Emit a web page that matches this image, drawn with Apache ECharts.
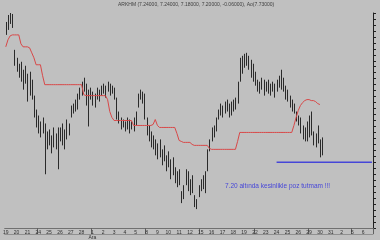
<!DOCTYPE html>
<html>
<head>
<meta charset="utf-8">
<script src="https://cdn.jsdelivr.net/npm/echarts@6/dist/echarts.min.js"></script>
<style>
html,body{margin:0;padding:0;background:#c0c0c0;}
#c{width:380px;height:240px;}
</style>
</head>
<body>
<div id="c"></div>
<script>
// ---- data ----
const DAYS = ['19','20','21','24','25','26','27','28','1','2','3','4','5','8','9','10','11','12','15','16','17','18','19','22','23','24','25','26','29','30','31','2','5','6'];
const WEEK_STARTS = [3,8,13,18,23,28,32];
const MONTH_LABELS = {8:'Ara'};
const SLOTS_PER_DAY = 5;

const HIGHS = [8.61,8.68,8.70,8.69,8.33,8.25,8.19,8.21,8.13,8.17,8.09,8.11,8.03,7.87,7.73,7.67,7.61,7.65,7.59,7.51,
7.53,7.47,7.55,7.49,7.55,7.55,7.59,7.53,7.63,7.59,7.77,7.79,7.83,7.89,7.95,8.01,8.05,7.99,7.93,7.95,
7.91,7.89,7.95,7.93,7.97,7.99,7.97,8.01,7.99,7.97,7.95,7.85,7.71,7.65,7.63,7.61,7.65,7.63,7.61,7.65,
7.71,7.89,7.93,7.91,7.89,7.65,7.57,7.51,7.47,7.43,7.39,7.43,7.33,7.37,7.27,7.31,7.23,7.25,7.15,7.11,
7.13,6.91,6.97,7.13,7.11,7.03,7.07,6.87,6.83,6.97,7.03,7.07,7.11,7.33,7.43,7.55,7.57,7.65,7.73,7.79,
7.77,7.81,7.83,7.79,7.81,7.83,7.85,8.01,8.25,8.27,8.29,8.30,8.27,8.23,8.19,8.11,8.03,8.01,8.05,8.03,
8.01,8.03,7.99,8.01,7.99,8.03,8.07,8.13,8.05,7.97,7.93,7.87,7.83,7.79,7.71,7.67,7.65,7.57,7.55,7.61,
7.67,7.71,7.51,7.49,7.57,7.43,7.45];
const LOWS = [8.48,8.53,8.59,8.55,8.17,8.11,8.05,8.01,7.93,7.99,7.81,7.87,7.83,7.65,7.55,7.49,7.45,7.49,7.08,7.33,
7.37,7.29,7.35,7.33,7.13,7.41,7.37,7.33,7.43,7.47,7.65,7.69,7.71,7.73,7.83,7.87,7.91,7.77,7.56,7.83,
7.77,7.75,7.83,7.81,7.87,7.89,7.85,7.91,7.87,7.89,7.83,7.63,7.59,7.53,7.55,7.51,7.53,7.49,7.53,7.51,
7.57,7.75,7.83,7.79,7.63,7.47,7.41,7.35,7.33,7.27,7.23,7.25,7.17,7.21,7.11,7.15,7.03,7.07,6.99,6.95,
6.97,6.79,6.83,6.97,6.91,6.87,6.89,6.75,6.73,6.85,6.91,6.93,6.89,7.11,7.31,7.41,7.45,7.51,7.63,7.67,
7.65,7.69,7.71,7.65,7.67,7.71,7.73,7.79,8.01,8.09,8.15,8.17,8.13,8.05,8.01,7.97,7.91,7.89,7.93,7.87,
7.91,7.89,7.87,7.91,7.85,7.91,7.95,7.93,7.91,7.83,7.81,7.75,7.71,7.69,7.61,7.57,7.49,7.43,7.41,7.41,
7.45,7.47,7.37,7.35,7.39,7.25,7.27];
const STOP_LINE = [8.36,8.43,8.47,8.48,8.48,8.48,8.48,8.39,8.36,8.36,8.36,8.35,8.30,8.25,8.18,8.18,8.18,8.07,7.98,7.98,
7.98,7.98,7.98,7.98,7.98,7.98,7.98,7.98,7.98,7.98,7.98,7.98,7.98,7.98,7.98,7.98,7.88,7.87,7.87,7.87,
7.87,7.87,7.87,7.87,7.87,7.87,7.87,7.83,7.71,7.65,7.62,7.62,7.62,7.62,7.62,7.62,7.62,7.62,7.62,7.57,
7.57,7.57,7.57,7.57,7.57,7.57,7.57,7.57,7.58,7.63,7.57,7.55,7.55,7.55,7.55,7.55,7.55,7.55,7.55,7.49,
7.42,7.41,7.40,7.40,7.40,7.40,7.38,7.37,7.37,7.37,7.37,7.37,7.37,7.37,7.34,7.33,7.33,7.33,7.33,7.33,
7.33,7.33,7.33,7.33,7.33,7.33,7.33,7.41,7.50,7.50,7.50,7.50,7.50,7.50,7.50,7.50,7.50,7.50,7.50,7.50,
7.50,7.50,7.50,7.50,7.50,7.50,7.50,7.50,7.50,7.50,7.50,7.50,7.50,7.57,7.65,7.72,7.77,7.80,7.82,7.83,
7.83,7.82,7.82,7.81,7.79,7.78];
const SUPPORT_LEVEL = 7.20;
const SUPPORT_START = 125;
const TITLE_TEXT = 'ARKHM (7.24000, 7.24000, 7.18000, 7.20000, -0.06000), Ao(7.73000)';
const NOTE_TEXT = '7.20 altında kesinlikle poz tutmam !!!';

// ---- build ----
const categories = [];
DAYS.forEach((d, k) => { for (let s = 0; s < SLOTS_PER_DAY; s++) categories.push(d + '_' + k + '_' + s); });
const barData = HIGHS.map((h, i) => [i, h, LOWS[i]]);
const supportData = categories.map((c, i) => i >= SUPPORT_START ? SUPPORT_LEVEL : null);
const weekTickIdx = new Set(WEEK_STARTS.map(k => k * SLOTS_PER_DAY));

const chart = echarts.init(document.getElementById('c'), null, {renderer: 'canvas'});
chart.setOption({
  backgroundColor: '#c0c0c0',
  animation: false,
  textStyle: {fontFamily: 'Liberation Sans, Arial, sans-serif'},
  grid: {left: 0, right: 7, top: 13, bottom: 11, containLabel: false},
  xAxis: [{
    type: 'category', data: categories, boundaryGap: true,
    axisLine: {show: true, lineStyle: {color: '#707070', width: 1}},
    axisTick: {show: true, length: 6, lineStyle: {color: '#606060'},
      interval: (i) => weekTickIdx.has(i)},
    axisLabel: {show: true, interval: 0, fontSize: 5, color: '#303030', margin: 2,
      formatter: (v, i) => (i % SLOTS_PER_DAY === 0 ? DAYS[i / SLOTS_PER_DAY] : '')},
    splitLine: {show: false}
  }, {
    type: 'category', data: categories, boundaryGap: true, position: 'bottom', offset: 6,
    axisLine: {show: true, lineStyle: {color: '#909090', width: 1}},
    axisTick: {show: false},
    axisLabel: {show: true, interval: 0, fontSize: 5, color: '#303030', margin: 1,
      formatter: (v, i) => (i % SLOTS_PER_DAY === 0 && MONTH_LABELS[i / SLOTS_PER_DAY]) ? MONTH_LABELS[i / SLOTS_PER_DAY] : ''},
    splitLine: {show: false}
  }],
  yAxis: {
    type: 'value', position: 'right', min: 6.54, max: 8.70, interval: 0.06,
    axisLine: {show: true, lineStyle: {color: '#202020', width: 1}},
    axisTick: {show: true, inside: false, length: 3, lineStyle: {color: '#202020'}},
    axisLabel: {show: false},
    splitLine: {show: false}
  },
  series: [{
    type: 'custom',
    data: barData,
    encode: {x: 0, y: [1, 2]},
    renderItem: function (params, api) {
      const i = api.value(0);
      const top = api.coord([i, api.value(1)]);
      const bot = api.coord([i, api.value(2)]);
      const x = Math.round(top[0]) + 0.5;
      return {type: 'line', shape: {x1: x, y1: top[1], x2: x, y2: bot[1]},
        style: {stroke: '#2a2a2a', lineWidth: 1}};
    },
    z: 3
  }, {
    type: 'line', data: STOP_LINE, symbol: 'none',
    lineStyle: {color: '#d84848', width: 1}, z: 4
  }, {
    type: 'line', data: supportData, symbol: 'none',
    lineStyle: {color: '#4646d8', width: 1.6}, z: 4
  }],
  graphic: [{
    type: 'text', left: 118, top: 2,
    style: {text: TITLE_TEXT, fontSize: 5, fill: '#404040', fontFamily: 'Liberation Sans'}
  }, {
    type: 'text', left: 225, top: 183,
    style: {text: NOTE_TEXT, fontSize: 6.5, fill: '#4646d8', fontFamily: 'Liberation Sans'}
  }]
});
</script>
</body>
</html>
